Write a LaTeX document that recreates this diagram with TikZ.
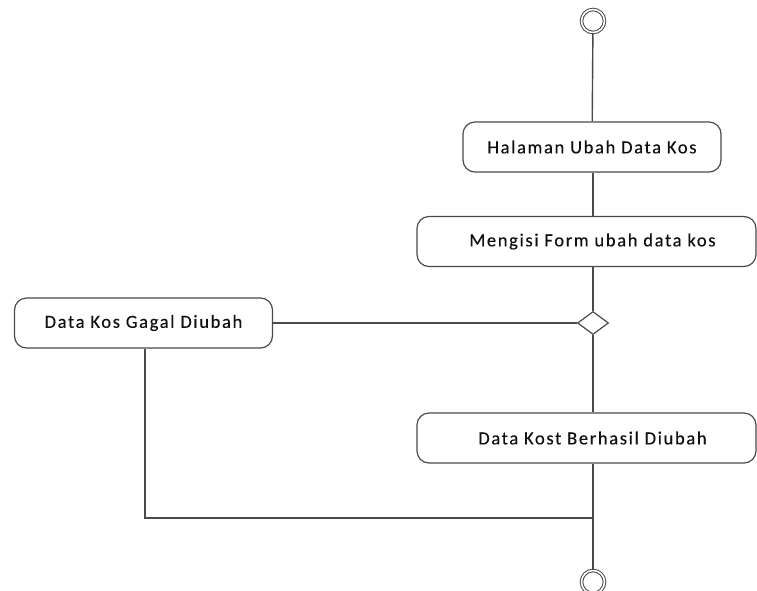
\documentclass[tikz,border=0pt]{standalone}
\usepackage{fontspec}
\setmainfont{Carlito}[LetterSpace=9, FakeBold=0.3]
\usetikzlibrary{shapes.geometric}
\definecolor{edge}{HTML}{4A4A4A}
\definecolor{labeltext}{HTML}{101010}
\tikzset{
  activity/.style={draw=edge, line width=1.2pt, rounded corners=12pt, fill=white,
    minimum height=50pt, inner sep=0pt, text=labeltext, font=\fontsize{18.5}{20}\selectfont},
  decision/.style={draw=edge, line width=1.2pt, diamond, fill=white, inner sep=0pt,
    minimum width=31pt, minimum height=23pt},
  terminal/.style={circle, draw=edge, line width=1pt, double=white, double distance=1.6pt,
    minimum size=23pt, inner sep=0pt, fill=white},
  flow/.style={draw=edge, line width=1.4pt}
}
\begin{document}
\begin{tikzpicture}[x=1pt, y=-1pt]
  \useasboundingbox (0,0) rectangle (757,590);

  % nodes
  \node[terminal] (start) at (593,21) {};
  \node[activity, minimum width=258pt] (halaman) at (592,147) {Halaman Ubah Data Kos};
  \node[activity, minimum width=339pt] (form) at (586.5,241.5) {\hspace*{12pt}Mengisi Form ubah data kos};
  \node[decision] (cek) at (593,323) {};
  \node[activity, minimum width=258pt] (gagal) at (143.5,323) {Data Kos Gagal Diubah};
  \node[activity, minimum width=339pt] (berhasil) at (586.5,438) {\hspace*{12pt}Data Kost Berhasil Diubah};
  \node[terminal] (end) at (593,582) {};
  \coordinate (join) at (593,518);

  % connectors
  \draw[flow] (start) -- (halaman);
  \draw[flow] (halaman.south -| start) -- (form.north -| start);
  \draw[flow] (form.south -| cek) -- (cek.north);
  \draw[flow] (gagal.east) -- (cek.west);
  \draw[flow] (cek.south) -- (berhasil.north -| cek);
  \draw[flow] (berhasil.south -| end) -- (end.north);
  \draw[flow] (gagal.south -| 145,0) -- (145,518) -- (join);
\end{tikzpicture}
\end{document}
